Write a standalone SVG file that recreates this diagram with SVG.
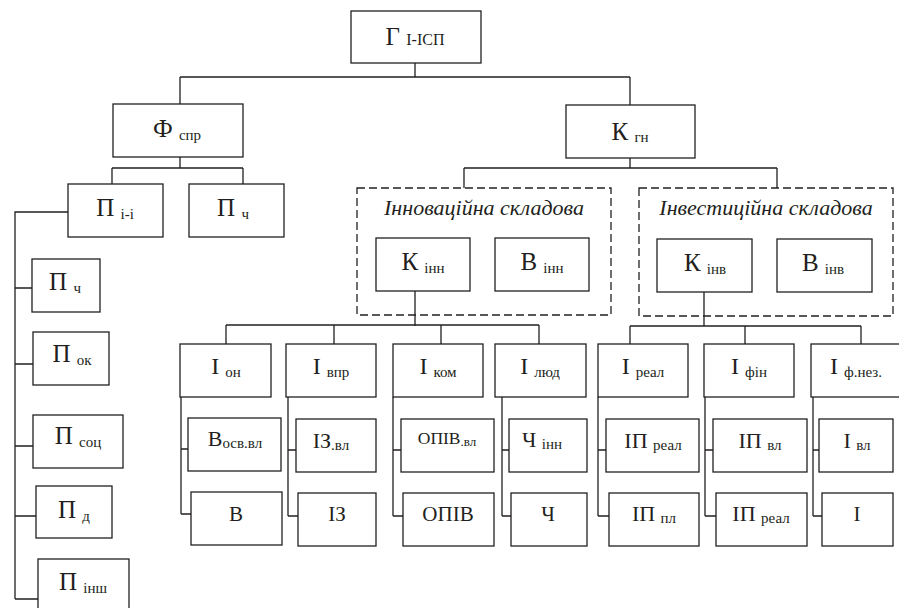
<svg xmlns="http://www.w3.org/2000/svg" width="899" height="608" viewBox="0 0 899 608">
<style>
.b{fill:#fff;stroke:#231f20;stroke-width:1.3}
.d{fill:none;stroke:#231f20;stroke-width:1.3;stroke-dasharray:8,4}
.c{fill:none;stroke:#231f20;stroke-width:1.3}
text{fill:#231f20;text-anchor:middle}
.m{font-size:25px}
.i{font-size:24px}
.r2{font-size:22px}
.r3{font-size:21px}
.s{font-size:15px}
.t{font-size:22px;font-style:italic}
</style>
<rect width="899" height="608" fill="#fff"/>
<g id="connectors" class="c">
<path d="M415,63V77M180,77H630M180,77V104M630,77V105"/>
<path d="M180,157V168M112,168H243M112,168V184M243,168V184"/>
<path d="M68,212H15V599M15,288H32M15,364H33M15,446H33M15,516H36M15,599H38"/>
<path d="M630,158V168M464,168H777M464,168V188M777,168V188"/>
<path d="M415,291V326M226,325H539M226,325V344M334,325V344M441,325V344M539,325V344"/>
<path d="M704,292V326M630,326H861M630,326V344M745,326V344M861,326V344"/>
<path d="M181,397V514M181,449H188M181,514H191"/>
<path d="M288,397V516M288,450H296M288,516H298"/>
<path d="M393,397V516M393,450H401M393,516H403"/>
<path d="M502,397V516M502,450H509M502,516H511"/>
<path d="M598,397V516M598,450H606M598,516H609"/>
<path d="M705,397V516M705,450H713M705,516H716"/>
<path d="M813,397V516M813,450H819M813,516H822"/>
</g>
<g font-family="'Liberation Serif', 'Times New Roman', serif">
<g id="n-g"><rect class="b" x="351" y="11" width="130" height="52"/><text class="m" x="415" y="45">Г <tspan style="font-size:16px">I-ICП</tspan></text></g>
<g id="n-f"><rect class="b" x="113" y="104" width="130" height="53"/><text class="m" x="177" y="137">Ф <tspan class="s" dy="3">спр</tspan></text></g>
<g id="n-k"><rect class="b" x="566" y="105" width="129" height="53"/><text class="m" x="630" y="140">К <tspan class="s" dy="2">гн</tspan></text></g>
<g id="n-pii"><rect class="b" x="68" y="184" width="95" height="53"/><text class="m" x="115" y="216">П <tspan class="s" dy="3">і-і</tspan></text></g>
<g id="n-pch"><rect class="b" x="189" y="184" width="95" height="53"/><text class="m" x="233" y="216">П <tspan class="s" dy="3">ч</tspan></text></g>
<g id="n-pch2"><rect class="b" x="32" y="259" width="68" height="53"/><text class="m" x="65" y="290">П <tspan class="s" dy="3">ч</tspan></text></g>
<g id="n-pok"><rect class="b" x="33" y="332" width="76" height="53"/><text class="m" x="72" y="362">П <tspan class="s" dy="3">ок</tspan></text></g>
<g id="n-psoc"><rect class="b" x="33" y="415" width="90" height="53"/><text class="m" x="78" y="444">П <tspan class="s" dy="3">соц</tspan></text></g>
<g id="n-pd"><rect class="b" x="36" y="486" width="76" height="52"/><text class="m" x="74" y="518">П <tspan class="s" dy="3">д</tspan></text></g>
<g id="n-pinsh"><rect class="b" x="38" y="559" width="91" height="55"/><text class="m" x="83" y="590">П <tspan class="s" dy="3">інш</tspan></text></g>
<g id="g-inn"><rect class="d" x="357" y="188" width="254" height="127"/><text class="t" x="484" y="215">Інноваційна складова</text></g>
<g id="g-inv"><rect class="d" x="639" y="188" width="254" height="128"/><text class="t" x="766" y="215">Інвестиційна складова</text></g>
<g id="n-kinn"><rect class="b" x="376" y="238" width="94" height="53"/><text class="m" x="423" y="270">К <tspan class="s" dy="3">інн</tspan></text></g>
<g id="n-vinn"><rect class="b" x="495" y="238" width="94" height="53"/><text class="m" x="542" y="270">В <tspan class="s" dy="3">інн</tspan></text></g>
<g id="n-kinv"><rect class="b" x="657" y="239" width="95" height="53"/><text class="m" x="705" y="271">К <tspan class="s" dy="3">інв</tspan></text></g>
<g id="n-vinv"><rect class="b" x="777" y="239" width="95" height="53"/><text class="m" x="823" y="271">В <tspan class="s" dy="3">інв</tspan></text></g>
<g id="n-ion"><rect class="b" x="180" y="344" width="91" height="53"/><text class="i" x="226" y="374">I <tspan class="s" dy="3">он</tspan></text></g>
<g id="n-ivpr"><rect class="b" x="286" y="344" width="90" height="53"/><text class="i" x="331" y="374">I <tspan class="s" dy="3">впр</tspan></text></g>
<g id="n-ikom"><rect class="b" x="393" y="344" width="90" height="53"/><text class="i" x="438" y="374">I <tspan class="s" dy="3">ком</tspan></text></g>
<g id="n-ilyud"><rect class="b" x="495" y="344" width="91" height="53"/><text class="i" x="540" y="374">I <tspan class="s" dy="3">люд</tspan></text></g>
<g id="n-ireal"><rect class="b" x="598" y="344" width="90" height="53"/><text class="i" x="643" y="374">I <tspan class="s" dy="3">реал</tspan></text></g>
<g id="n-ifin"><rect class="b" x="704" y="344" width="90" height="53"/><text class="i" x="749" y="374">I <tspan class="s" dy="3">фін</tspan></text></g>
<g id="n-ifnez"><rect class="b" x="811" y="344" width="92" height="53"/><text class="i" x="856" y="374">I <tspan class="s" dy="3">ф.нез.</tspan></text></g>
<g id="n-vosv"><rect class="b" x="188" y="418" width="93" height="53"/><text class="r2" x="235" y="446">В<tspan class="s" dy="2">осв.вл</tspan></text></g>
<g id="n-izvl"><rect class="b" x="296" y="419" width="80" height="53"/><text class="r2" x="331" y="448">ІЗ<tspan class="s" dy="2">.вл</tspan></text></g>
<g id="n-opivvl"><rect class="b" x="401" y="419" width="93" height="53"/><text x="447" y="444" style="font-size:17.5px">ОПІВ<tspan style="font-size:13px" dy="2">.вл</tspan></text></g>
<g id="n-chinn"><rect class="b" x="509" y="419" width="78" height="53"/><text class="r2" x="542" y="447">Ч <tspan class="s" dy="2">інн</tspan></text></g>
<g id="n-ipreal"><rect class="b" x="606" y="419" width="93" height="53"/><text class="r2" x="653" y="448">ІП <tspan class="s" dy="2">реал</tspan></text></g>
<g id="n-ipvl"><rect class="b" x="713" y="419" width="94" height="53"/><text class="r2" x="760" y="448">ІП <tspan class="s" dy="2">вл</tspan></text></g>
<g id="n-ivl"><rect class="b" x="819" y="419" width="74" height="53"/><text class="r2" x="857" y="448">I <tspan class="s" dy="2">вл</tspan></text></g>
<g id="n-v"><rect class="b" x="191" y="492" width="91" height="53"/><text class="r3" x="236" y="521">В</text></g>
<g id="n-iz"><rect class="b" x="298" y="493" width="78" height="53"/><text class="r3" x="337" y="521">ІЗ</text></g>
<g id="n-opiv"><rect class="b" x="403" y="493" width="91" height="53"/><text class="r3" x="448" y="521">ОПІВ</text></g>
<g id="n-ch"><rect class="b" x="511" y="493" width="76" height="53"/><text class="r3" x="548" y="521">Ч</text></g>
<g id="n-ippl"><rect class="b" x="609" y="493" width="90" height="53"/><text class="r2" x="654" y="521">ІП <tspan class="s" dy="2">пл</tspan></text></g>
<g id="n-ipreal2"><rect class="b" x="716" y="493" width="91" height="53"/><text class="r2" x="761" y="521">ІП <tspan class="s" dy="2">реал</tspan></text></g>
<g id="n-i"><rect class="b" x="822" y="493" width="71" height="53"/><text class="r3" x="857" y="521">I</text></g>
</g>
</svg>
